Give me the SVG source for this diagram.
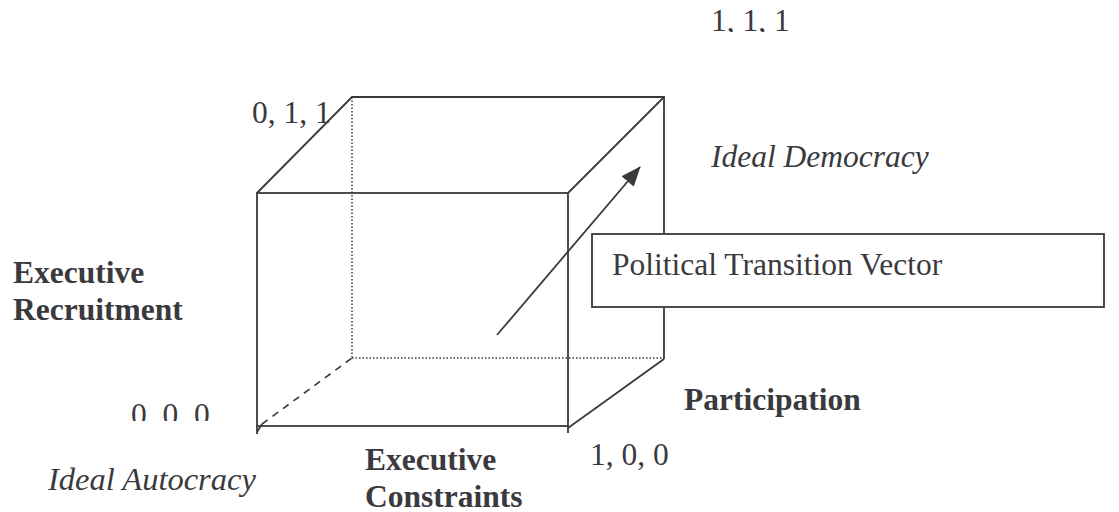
<svg xmlns="http://www.w3.org/2000/svg" width="1119" height="512" viewBox="0 0 1119 512">
<defs>
<style>
.ln{stroke:#3a3a3e;stroke-width:1.8;fill:none}
.dot{stroke:#3a3a3e;stroke-width:1.5;stroke-dasharray:1.5 2;fill:none}
.dash{stroke:#3a3a3e;stroke-width:1.6;stroke-dasharray:7 6;fill:none}
text{font-family:"Liberation Serif","Times New Roman",serif;font-size:31.5px;fill:#3a3a3e}
.b{font-weight:bold}
.i{font-style:italic;font-size:32.5px}
</style>
<marker id="ah" viewBox="0 0 20 16" refX="19" refY="8" markerWidth="20" markerHeight="16" markerUnits="userSpaceOnUse" orient="auto">
<path d="M0,0 L20,8 L0,16 z" fill="#3a3a3e"/>
</marker>
<clipPath id="c111"><rect x="690" y="0" width="120" height="32"/></clipPath>
<clipPath id="c000"><rect x="110" y="390" width="120" height="31"/></clipPath>
</defs>
<rect width="1119" height="512" fill="#fff"/>
<g id="cube">
<line class="dot" x1="352" y1="97" x2="352" y2="358"/>
<line class="dot" x1="352" y1="358" x2="664" y2="358"/>
<line class="dash" x1="262" y1="424" x2="352" y2="358"/>
<line class="ln" x1="257" y1="432" x2="262" y2="424"/>
<rect class="ln" x="257" y="193" width="311" height="233"/>
<line class="ln" x1="257" y1="426" x2="257" y2="434"/>
<line class="ln" x1="568" y1="426" x2="568" y2="433"/>
<polyline class="ln" points="257,193 352,97 664,97 664,359"/>
<line class="ln" x1="568" y1="193" x2="664" y2="97"/>
<line class="ln" x1="568" y1="428" x2="664" y2="359"/>
</g>
<g id="connectors">
<line class="ln" x1="497" y1="335" x2="640" y2="167" marker-end="url(#ah)" stroke-width="2"/>
</g>
<g id="vector-label">
<rect x="592" y="234" width="512" height="73" fill="#fff" stroke="#3a3a3e" stroke-width="1.8"/>
<text x="612" y="275">Political Transition Vector</text>
</g>
<g id="labels">
<text x="711" y="31" clip-path="url(#c111)">1, 1, 1</text>
<text x="252" y="123">0, 1, 1</text>
<text class="i" x="711" y="167" style="font-size:31.5px">Ideal Democracy</text>
<text class="b" x="13" y="283">Executive</text>
<text class="b" x="13" y="320">Recruitment</text>
<text x="131" y="425" clip-path="url(#c000)">0, 0, 0</text>
<text class="b" x="684" y="410">Participation</text>
<text x="590" y="465">1, 0, 0</text>
<text class="b" x="365" y="470">Executive</text>
<text class="b" x="365" y="507">Constraints</text>
<text class="i" x="48" y="490">Ideal Autocracy</text>
</g>
</svg>
